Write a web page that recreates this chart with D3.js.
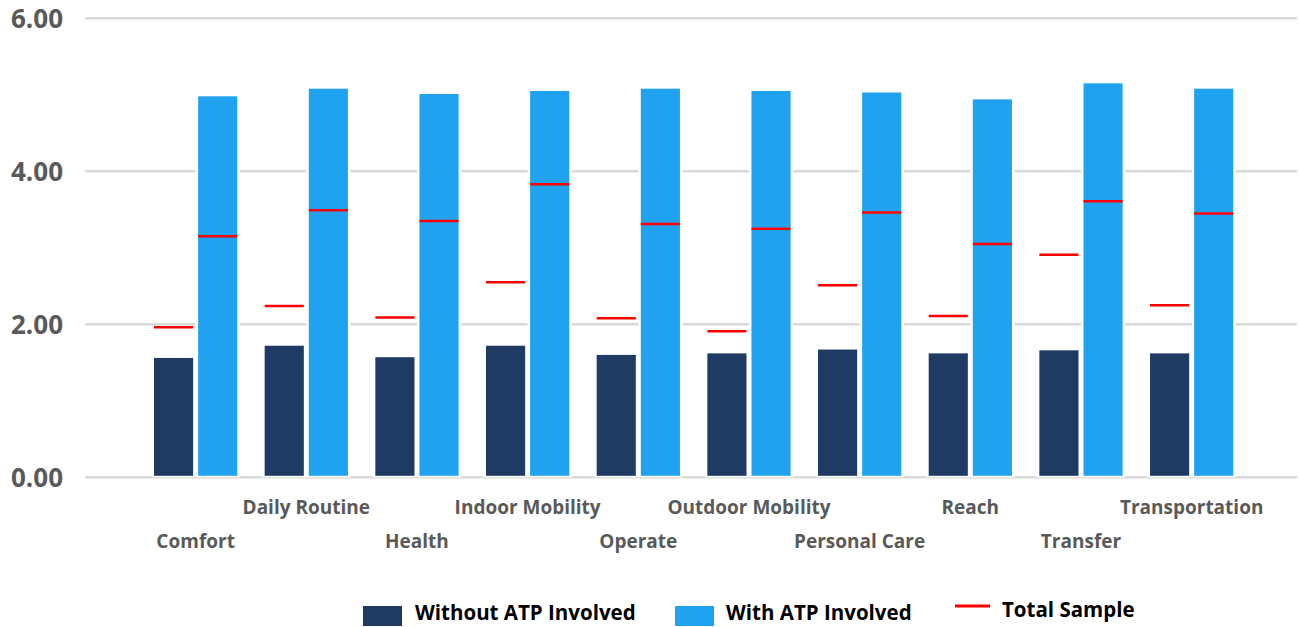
<!DOCTYPE html>
<html><head><meta charset="utf-8">
<script src="https://cdn.jsdelivr.net/npm/d3@7"></script>
<style>html,body{margin:0;padding:0;background:#fff;}svg{display:block;}</style>
</head><body>
<svg id="chart" width="1299" height="627"></svg>
<script>
const categories = ["Comfort","Daily Routine","Health","Indoor Mobility","Operate","Outdoor Mobility","Personal Care","Reach","Transfer","Transportation"];
const withoutATP = [1.56,1.72,1.57,1.72,1.60,1.62,1.67,1.62,1.66,1.62];
const withATP    = [4.98,5.08,5.01,5.05,5.08,5.05,5.03,4.94,5.15,5.08];
const totalWithout = [1.96,2.24,2.09,2.55,2.08,1.91,2.51,2.11,2.91,2.25];
const totalWith    = [3.15,3.49,3.35,3.83,3.31,3.25,3.46,3.05,3.61,3.45];
const yTicks = [0,2,4,6];
const seriesNames = ["Without ATP Involved","With ATP Involved","Total Sample"];
const colors = {without:"#1f3a63", with:"#20a2f0", total:"#ff0000"};

const svg = d3.select("#chart");
const font = "'Open Sans', 'Noto Sans', sans-serif";
const y = d3.scaleLinear().domain([0,6]).range([477.3,18.3]);
const x = d3.scaleBand().domain(categories).range([140.3,1247]).padding(0);
const x1 = d3.scaleBand().domain(["without","with"]).range([13.7, x.bandwidth()-13.7]).paddingInner(0.113).paddingOuter(0);

// gridlines
const grid = svg.append("g");
grid.selectAll("line").data(yTicks).join("line")
  .attr("x1",85).attr("x2",1297)
  .attr("y1",d=>y(d)).attr("y2",d=>y(d))
  .attr("stroke","#d9d9d9").attr("stroke-width",2.5);

// y labels
const yAxis = d3.axisLeft(y).tickValues(yTicks).tickFormat(d3.format(".2f")).tickSize(0).tickPadding(0);
const ya = svg.append("g").attr("transform","translate(63,0)").call(yAxis);
ya.select(".domain").remove();
ya.selectAll("text").attr("font-family",font).attr("font-weight","bold").attr("font-size",26).attr("fill","#595959").attr("dy","0.36em");

// bars
const rows = categories.map((c,i)=>({c, without:withoutATP[i], with:withATP[i], tw:totalWithout[i], tt:totalWith[i]}));
const groups = svg.append("g").selectAll("g").data(rows).join("g")
  .attr("transform",d=>`translate(${x(d.c)},0)`);
["without","with"].forEach(k=>{
  groups.append("rect")
    .attr("x",x1(k)-2.5).attr("width",x1.bandwidth()+5)
    .attr("y",d=>y(d[k])-2.5).attr("height",d=>y(0)-y(d[k])+2.5)
    .attr("fill","#fff");
});
["without","with"].forEach(k=>{
  groups.append("rect")
    .attr("x",x1(k)).attr("width",x1.bandwidth())
    .attr("y",d=>y(d[k])).attr("height",d=>y(0)-y(d[k])-1.5)
    .attr("fill",colors[k]);
});
// total sample markers
groups.append("line").attr("x1",x1("without")).attr("x2",x1("without")+x1.bandwidth())
  .attr("y1",d=>y(d.tw)).attr("y2",d=>y(d.tw)).attr("stroke",colors.total).attr("stroke-width",2.5);
groups.append("line").attr("x1",x1("with")).attr("x2",x1("with")+x1.bandwidth())
  .attr("y1",d=>y(d.tt)).attr("y2",d=>y(d.tt)).attr("stroke",colors.total).attr("stroke-width",2.5);

// x labels (staggered)
svg.append("g").selectAll("text").data(categories).join("text")
  .attr("x",d=>x(d)+x.bandwidth()/2)
  .attr("y",(d,i)=> i%2===0 ? 548 : 514)
  .attr("text-anchor","middle")
  .attr("font-family",font).attr("font-weight","bold").attr("font-size",19).attr("fill","#595959")
  .text(d=>d);

// legend
const lg = svg.append("g");
const legendItems = [
  {name:seriesNames[0], type:"rect", color:colors.without, sx:363, tx:415},
  {name:seriesNames[1], type:"rect", color:colors.with, sx:675, tx:726},
  {name:seriesNames[2], type:"line", color:colors.total, sx:955, tx:1002}
];
legendItems.forEach(it=>{
  if(it.type==="rect"){
    lg.append("rect").attr("x",it.sx).attr("y",606).attr("width",39).attr("height",20).attr("fill",it.color);
    lg.append("text").attr("x",it.tx).attr("y",620).attr("font-family",font).attr("font-weight","bold").attr("font-size",20.5).attr("fill","#000").text(it.name);
  } else {
    lg.append("line").attr("x1",it.sx).attr("x2",it.sx+35).attr("y1",606).attr("y2",606).attr("stroke",it.color).attr("stroke-width",3);
    lg.append("text").attr("x",it.tx).attr("y",617).attr("font-family",font).attr("font-weight","bold").attr("font-size",20.5).attr("fill","#000").text(it.name);
  }
});
</script>
</body></html>
